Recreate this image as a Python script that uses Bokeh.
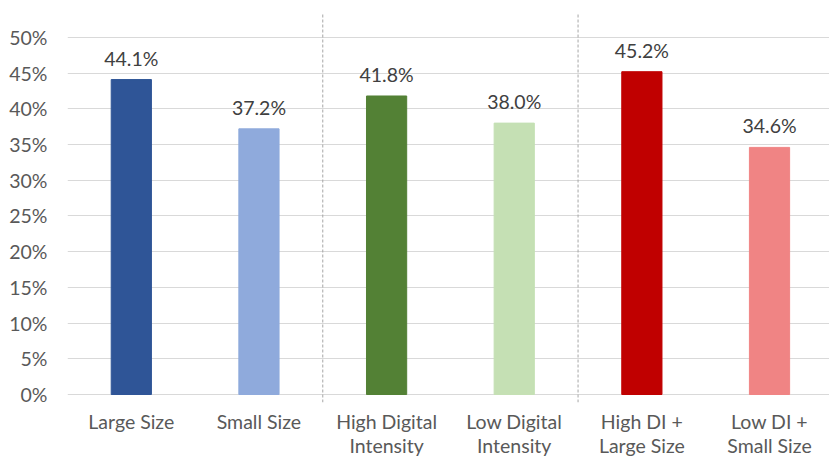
from bokeh.plotting import figure
from bokeh.models import Range1d, FixedTicker, ColumnDataSource, LabelSet
from bokeh.core.properties import value
from bokeh.embed import file_html
from bokeh.resources import INLINE

categories = ["Large Size", "Small Size", "High Digital\nIntensity", "Low Digital\nIntensity",
              "High DI +\nLarge Size", "Low DI +\nSmall Size"]
values = [44.1, 37.2, 41.8, 38.0, 45.2, 34.6]
colors = ["#2F5597", "#8FAADC", "#538135", "#C5E0B4", "#C00000", "#F08484"]
y_ticks = [0, 5, 10, 15, 20, 25, 30, 35, 40, 45, 50]

xs = [i + 0.5 for i in range(len(categories))]
labels = ["%.1f%%" % v for v in values]
src = ColumnDataSource(dict(x=xs, top=values, color=colors, label=labels))

FONT = "Lato"
FS = "19.5px"
p = figure(width=829, height=459, output_backend="svg", toolbar_location=None,
           x_range=Range1d(0, 5.97), y_range=Range1d(-1.12, 53.35),
           min_border_left=67, min_border_right=0, min_border_top=13, min_border_bottom=56)
p.outline_line_color = None
p.background_fill_color = "white"
p.border_fill_color = "white"

p.vbar(x="x", top="top", bottom=0, width=0.315, color="color", source=src)

lab = LabelSet(x="x", y="top", text="label", source=src, text_align="center", text_baseline="bottom",
               y_offset=10, text_font=value(FONT), text_font_size=value(FS), text_color="#404040")
p.add_layout(lab)

for xsep in [2, 4]:
    p.segment(x0=[xsep], y0=[-1.12], x1=[xsep], y1=[53.35], line_color="#A6A6A6",
              line_dash="3 2", line_width=1)

p.yaxis.ticker = FixedTicker(ticks=y_ticks)
p.yaxis.major_label_overrides = {t: "%d%%" % t for t in y_ticks}
p.yaxis.axis_line_color = None
p.yaxis.major_tick_line_color = None
p.yaxis.minor_tick_line_color = None
p.yaxis.major_tick_in = 0
p.yaxis.major_tick_out = 0
p.yaxis.major_label_standoff = 20
p.yaxis.major_label_text_font = FONT
p.yaxis.major_label_text_font_size = FS
p.yaxis.major_label_text_color = "#595959"

p.xaxis.ticker = FixedTicker(ticks=xs)
p.xaxis.major_label_overrides = {x: c for x, c in zip(xs, categories)}
p.xaxis.axis_line_color = None
p.xaxis.major_tick_line_color = None
p.xaxis.minor_tick_line_color = None
p.xaxis.major_tick_in = 0
p.xaxis.major_tick_out = 0
p.xaxis.major_label_standoff = 7
p.xaxis.major_label_text_font = FONT
p.xaxis.major_label_text_font_size = FS
p.xaxis.major_label_text_color = "#595959"
p.xaxis.major_label_text_line_height = 1.05

p.xgrid.grid_line_color = None
p.ygrid.grid_line_color = "#D9D9D9"
p.ygrid.grid_line_width = 1

open("out.html", "w").write(file_html(p, INLINE))
